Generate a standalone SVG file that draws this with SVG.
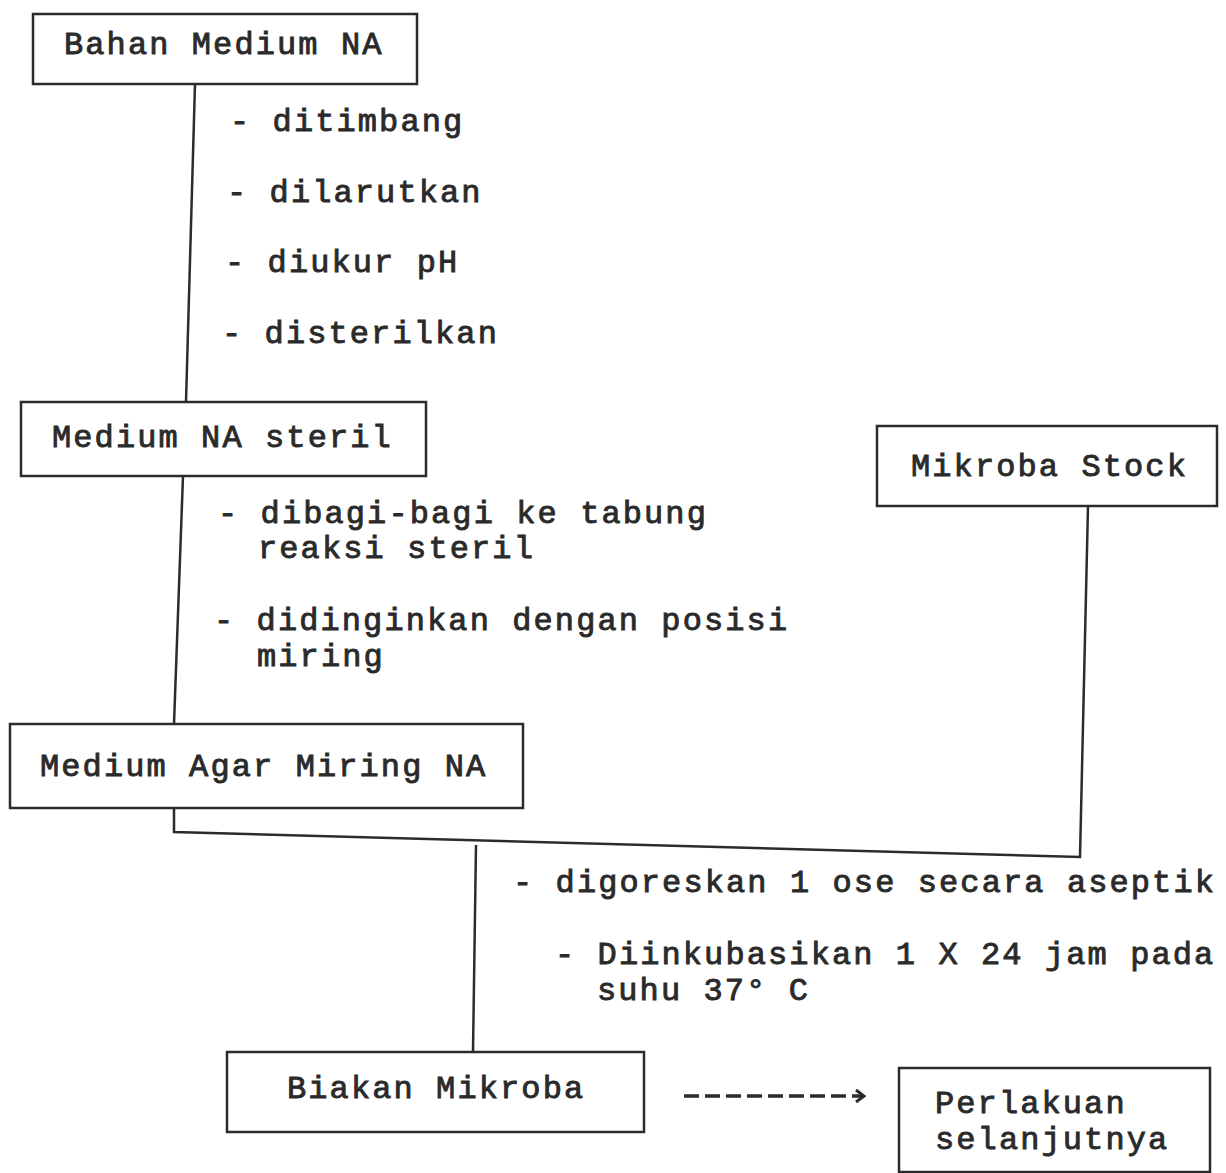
<svg xmlns="http://www.w3.org/2000/svg" width="1226" height="1173" viewBox="0 0 1226 1173">
<style>
.box{fill:#fff;stroke:#2b2b2b;stroke-width:2.5}
.ln{fill:none;stroke:#2b2b2b;stroke-width:2.5}
.t{font-family:"Liberation Mono","Courier New",monospace;font-size:32px;letter-spacing:2.1px;fill:#2a2a2a;stroke:#2a2a2a;stroke-width:0.9}
</style>
<defs>
<marker id="chev" viewBox="0 0 12 16" refX="10" refY="8" markerWidth="12" markerHeight="16" markerUnits="userSpaceOnUse" orient="auto">
<path d="M2,2 L10,8 L2,14" fill="none" stroke="#2b2b2b" stroke-width="3"/>
</marker>
</defs>
<rect width="1226" height="1173" fill="#fff"/>
<g id="connectors">
<path class="ln" d="M195,84 L186,402"/>
<path class="ln" d="M183,476 L174,724"/>
<path class="ln" d="M174,808 L174,832 L1080,857 L1088,506"/>
<path class="ln" d="M476,845 L473,1052"/>
<path d="M684,1096 L864,1096" fill="none" stroke="#2b2b2b" stroke-width="3.5" stroke-dasharray="15,6" marker-end="url(#chev)"/>
</g>
<g id="n1">
<rect class="box" x="33" y="14" width="384" height="70"/>
<text class="t" x="64" y="54">Bahan Medium NA</text>
</g>
<g id="s1">
<text class="t" x="230" y="131">- ditimbang</text>
<text class="t" x="227" y="202">- dilarutkan</text>
<text class="t" x="225" y="272">- diukur pH</text>
<text class="t" x="222" y="343">- disterilkan</text>
</g>
<g id="n2">
<rect class="box" x="21" y="402" width="405" height="74"/>
<text class="t" x="52" y="447">Medium NA steril</text>
</g>
<g id="s2">
<text class="t" x="218" y="523">- dibagi-bagi ke tabung<tspan x="258" dy="35">reaksi steril</tspan></text>
<text class="t" x="214" y="630">- didinginkan dengan posisi<tspan x="257" dy="36">miring</tspan></text>
</g>
<g id="n3">
<rect class="box" x="10" y="724" width="513" height="84"/>
<text class="t" x="40" y="776">Medium Agar Miring NA</text>
</g>
<g id="n4">
<rect class="box" x="877" y="426" width="340" height="80"/>
<text class="t" x="911" y="476">Mikroba Stock</text>
</g>
<g id="s3">
<text class="t" x="513" y="892">- digoreskan 1 ose secara aseptik</text>
<text class="t" x="555" y="964">- Diinkubasikan 1 X 24 jam pada<tspan x="597" dy="36">suhu 37° C</tspan></text>
</g>
<g id="n5">
<rect class="box" x="227" y="1052" width="417" height="80"/>
<text class="t" x="287" y="1098">Biakan Mikroba</text>
</g>
<g id="n6">
<rect class="box" x="899" y="1068" width="311" height="104"/>
<text class="t" x="935" y="1113">Perlakuan<tspan x="935" dy="36">selanjutnya</tspan></text>
</g>
</svg>
